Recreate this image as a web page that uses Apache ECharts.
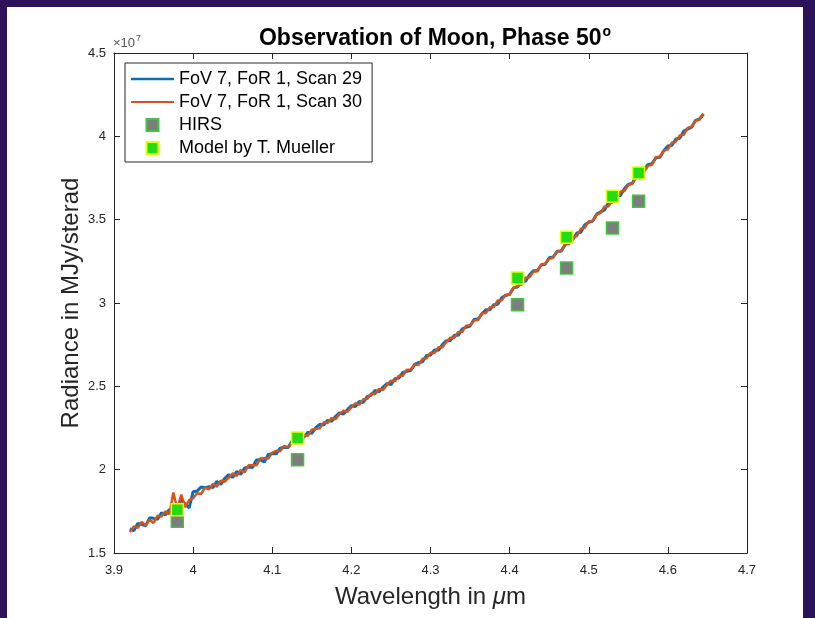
<!DOCTYPE html>
<html>
<head>
<meta charset="utf-8">
<title>Observation of Moon</title>
<script src="https://cdn.jsdelivr.net/npm/echarts@6/dist/echarts.min.js"></script>
<style>
  html, body {
    margin: 0;
    padding: 0;
    width: 815px;
    height: 618px;
    background: #2c1258;
    overflow: hidden;
  }
  .paper {
    position: absolute;
    left: 7px;
    top: 7px;
    width: 796px;
    height: 611px;
    background: #fff;
  }
  #chart {
    position: absolute;
    left: 0;
    top: 0;
    width: 815px;
    height: 618px;
  }
</style>
</head>
<body>
<div class="paper"></div>
<div id="chart"></div>
<script>
// wavelength in um (shared by both scans)
var wavelength = [
  3.920, 3.925, 3.930, 3.935, 3.940, 3.945, 3.950, 3.955, 3.960, 3.965,
  3.970, 3.975, 3.980, 3.985, 3.990, 3.995, 4.000, 4.005, 4.010, 4.015,
  4.020, 4.025, 4.030, 4.035, 4.040, 4.045, 4.050, 4.055, 4.060, 4.065,
  4.070, 4.075, 4.080, 4.085, 4.090, 4.095, 4.100, 4.105, 4.110, 4.115,
  4.120, 4.125, 4.130, 4.135, 4.140, 4.145, 4.150, 4.155, 4.160, 4.165,
  4.170, 4.175, 4.180, 4.185, 4.190, 4.195, 4.200, 4.205, 4.210, 4.215,
  4.220, 4.225, 4.230, 4.235, 4.240, 4.245, 4.250, 4.255, 4.260, 4.265,
  4.270, 4.275, 4.280, 4.285, 4.290, 4.295, 4.300, 4.305, 4.310, 4.315,
  4.320, 4.325, 4.330, 4.335, 4.340, 4.345, 4.350, 4.355, 4.360, 4.365,
  4.370, 4.375, 4.380, 4.385, 4.390, 4.395, 4.400, 4.405, 4.410, 4.415,
  4.420, 4.425, 4.430, 4.435, 4.440, 4.445, 4.450, 4.455, 4.460, 4.465,
  4.470, 4.475, 4.480, 4.485, 4.490, 4.495, 4.500, 4.505, 4.510, 4.515,
  4.520, 4.525, 4.530, 4.535, 4.540, 4.545, 4.550, 4.555, 4.560, 4.565,
  4.570, 4.575, 4.580, 4.585, 4.590, 4.595, 4.600, 4.605, 4.610, 4.615,
  4.620, 4.625, 4.630, 4.635, 4.640, 4.645
];

// radiance, units of 1e7 MJy/sterad
var scan29 = [
  1.645, 1.634, 1.677, 1.672, 1.663, 1.711, 1.708, 1.702, 1.741, 1.729,
  1.761, 1.740, 1.776, 1.818, 1.795, 1.770, 1.868, 1.872, 1.896, 1.891,
  1.898, 1.892, 1.930, 1.912, 1.948, 1.970, 1.954, 1.989, 1.972, 2.009,
  2.016, 2.013, 2.058, 2.059, 2.046, 2.091, 2.096, 2.095, 2.129, 2.134,
  2.133, 2.171, 2.172, 2.201, 2.194, 2.225, 2.218, 2.252, 2.272, 2.268,
  2.296, 2.290, 2.320, 2.340, 2.334, 2.360, 2.384, 2.379, 2.410, 2.403,
  2.438, 2.447, 2.476, 2.467, 2.496, 2.517, 2.510, 2.545, 2.550, 2.583,
  2.590, 2.595, 2.632, 2.643, 2.648, 2.685, 2.688, 2.718, 2.716, 2.750,
  2.774, 2.774, 2.806, 2.806, 2.844, 2.854, 2.862, 2.901, 2.904, 2.935,
  2.960, 2.959, 2.990, 2.993, 3.032, 3.045, 3.052, 3.092, 3.096, 3.130,
  3.130, 3.168, 3.194, 3.194, 3.228, 3.232, 3.272, 3.276, 3.310, 3.310,
  3.348, 3.377, 3.381, 3.420, 3.425, 3.469, 3.484, 3.492, 3.533, 3.547,
  3.559, 3.602, 3.606, 3.642, 3.645, 3.686, 3.712, 3.719, 3.760, 3.764,
  3.801, 3.831, 3.836, 3.872, 3.875, 3.915, 3.942, 3.946, 3.984, 3.989,
  4.031, 4.043, 4.055, 4.096, 4.104, 4.134
];

var scan30 = [
  1.625, 1.660, 1.651, 1.686, 1.666, 1.699, 1.680, 1.724, 1.719, 1.751,
  1.733, 1.863, 1.762, 1.850, 1.775, 1.818, 1.828, 1.858, 1.854, 1.892,
  1.882, 1.914, 1.898, 1.934, 1.928, 1.952, 1.978, 1.963, 1.998, 1.983,
  2.026, 2.027, 2.026, 2.067, 2.068, 2.067, 2.102, 2.113, 2.111, 2.142,
  2.133, 2.161, 2.184, 2.177, 2.208, 2.203, 2.240, 2.246, 2.248, 2.284,
  2.280, 2.310, 2.302, 2.334, 2.354, 2.348, 2.374, 2.397, 2.390, 2.423,
  2.424, 2.457, 2.452, 2.485, 2.478, 2.509, 2.534, 2.531, 2.564, 2.563,
  2.600, 2.601, 2.630, 2.629, 2.666, 2.669, 2.702, 2.700, 2.734, 2.734,
  2.766, 2.792, 2.792, 2.826, 2.826, 2.864, 2.866, 2.895, 2.898, 2.939,
  2.940, 2.975, 2.976, 3.015, 3.016, 3.049, 3.050, 3.090, 3.102, 3.110,
  3.152, 3.154, 3.188, 3.190, 3.232, 3.236, 3.266, 3.272, 3.310, 3.314,
  3.352, 3.353, 3.393, 3.402, 3.445, 3.451, 3.490, 3.492, 3.531, 3.541,
  3.579, 3.580, 3.616, 3.622, 3.667, 3.672, 3.708, 3.715, 3.754, 3.782,
  3.787, 3.823, 3.830, 3.874, 3.879, 3.915, 3.922, 3.962, 3.968, 4.005,
  4.009, 4.051, 4.059, 4.092, 4.100, 4.136
];

// HIRS and model points
var pointWl = [3.98, 4.132, 4.41, 4.472, 4.53, 4.563];
var hirs = [1.69, 2.06, 2.99, 3.21, 3.45, 3.61];
var model = [1.76, 2.19, 3.15, 3.395, 3.64, 3.78];

var xTicks = { min: 3.9, max: 4.7, step: 0.1 };
var yTicks = { min: 1.5, max: 4.5, step: 0.5 };

function pairs(xs, ys) {
  var out = [];
  for (var i = 0; i < xs.length; i++) {
    out.push([xs[i], ys[i]]);
  }
  return out;
}

var font = '"Liberation Sans", Arial, Helvetica, sans-serif';
var axisColor = '#262626';
var square = 'path://M0,0L10,0L10,10L0,10Z';

var chart = echarts.init(document.getElementById('chart'), null, { renderer: 'canvas' });

// shared axis look (MATLAB style box with inward ticks)
function boxAxis(extra) {
  var a = {
    type: 'value',
    axisLine: { show: true, onZero: false, lineStyle: { color: axisColor, width: 1 } },
    axisTick: { show: true, inside: true, length: 6, lineStyle: { color: axisColor } },
    splitLine: { show: false },
    axisLabel: { show: false }
  };
  for (var k in extra) a[k] = extra[k];
  return a;
}

var option = {
  animation: false,
  backgroundColor: 'transparent',
  title: {
    text: '{t|Observation of Moon, Phase 50}{s|o}',
    left: 430,
    top: 20,
    textAlign: 'center',
    textStyle: {
      rich: {
        t: { fontFamily: font, fontSize: 23, fontWeight: 'bold', color: '#000' },
        s: { fontFamily: font, fontSize: 14, fontWeight: 'bold', color: '#000', verticalAlign: 'top', padding: [0, 0, 14, 1] }
      }
    }
  },
  grid: { left: 114, right: 68, top: 53, bottom: 65 },
  legend: {
    orient: 'vertical',
    left: 125,
    top: 63,
    padding: [7, 10, 5, 6],
    itemGap: 5,
    itemWidth: 43,
    itemHeight: 12,
    borderColor: axisColor,
    borderWidth: 1,
    borderRadius: 0,
    backgroundColor: '#fff',
    textStyle: { fontFamily: font, fontSize: 18, color: '#000', lineHeight: 18 },
    data: [
      { name: 'FoV 7, FoR 1, Scan 29', icon: 'path://M0,0L43,0L43,2.5L0,2.5Z' },
      { name: 'FoV 7, FoR 1, Scan 30', icon: 'path://M0,0L43,0L43,2L0,2Z' },
      { name: 'HIRS', icon: square },
      { name: 'Model by T. Mueller', icon: square }
    ]
  },
  xAxis: [
    boxAxis({
      position: 'bottom',
      min: xTicks.min, max: xTicks.max, interval: xTicks.step,
      name: '{n|Wavelength in }{m|\u03bc}{n|m}',
      nameLocation: 'middle',
      nameGap: 32,
      nameTextStyle: {
        rich: {
          n: { fontFamily: font, fontSize: 24, color: '#262626' },
          m: { fontFamily: font, fontSize: 24, fontStyle: 'italic', color: '#262626' }
        }
      },
      axisLabel: { show: true, margin: 11, fontFamily: font, fontSize: 13, color: axisColor }
    }),
    boxAxis({ position: 'top', min: xTicks.min, max: xTicks.max, interval: xTicks.step })
  ],
  yAxis: [
    boxAxis({
      position: 'left',
      min: yTicks.min, max: yTicks.max, interval: yTicks.step,
      name: 'Radiance in MJy/sterad',
      nameLocation: 'middle',
      nameGap: 31,
      nameMoveOverlap: false,
      nameTextStyle: { fontFamily: font, fontSize: 24, color: '#262626' },
      axisLabel: { show: true, margin: 8, fontFamily: font, fontSize: 13, color: axisColor }
    }),
    boxAxis({ position: 'right', min: yTicks.min, max: yTicks.max, interval: yTicks.step })
  ],
  graphic: [
    {
      type: 'text',
      left: 113,
      top: 34,
      style: {
        text: '{a|\u00d710}{b|7}',
        rich: {
          a: { fontFamily: font, fontSize: 13, fill: '#555' },
          b: { fontFamily: font, fontSize: 9, fill: '#555', verticalAlign: 'top', padding: [0, 0, 9, 1] }
        }
      }
    }
  ],
  series: [
    {
      name: 'FoV 7, FoR 1, Scan 29',
      type: 'line',
      symbol: 'none',
      data: pairs(wavelength, scan29),
      lineStyle: { color: '#0072bd', width: 3 },
      itemStyle: { color: '#0072bd' },
      z: 2
    },
    {
      name: 'FoV 7, FoR 1, Scan 30',
      type: 'line',
      symbol: 'none',
      data: pairs(wavelength, scan30),
      lineStyle: { color: '#d95319', width: 2.5 },
      itemStyle: { color: '#d95319' },
      z: 3
    },
    {
      name: 'HIRS',
      type: 'scatter',
      symbol: 'rect',
      symbolSize: 12,
      data: pairs(pointWl, hirs),
      itemStyle: { color: '#7d7d7d', borderColor: '#3cc83c', borderWidth: 1.5, opacity: 1 },
      z: 4
    },
    {
      name: 'Model by T. Mueller',
      type: 'scatter',
      symbol: 'rect',
      symbolSize: 12,
      data: pairs(pointWl, model),
      itemStyle: { color: '#22dd11', borderColor: '#e4ff00', borderWidth: 1.5, opacity: 1 },
      z: 5
    }
  ]
};

chart.setOption(option);
</script>
</body>
</html>
